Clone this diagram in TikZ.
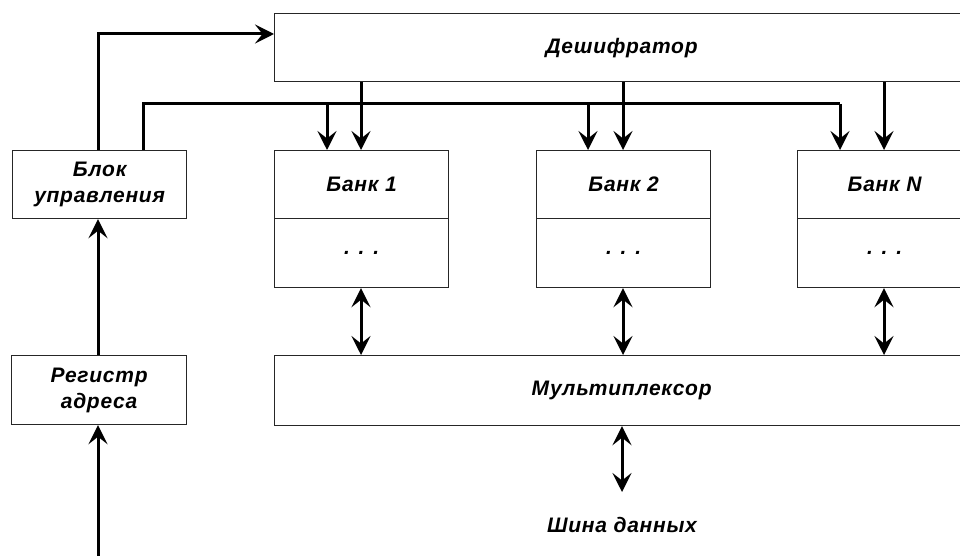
\documentclass[tikz,border=0pt]{standalone}
\usepackage{fontspec}
\setmainfont{Liberation Sans}
\newfontfamily\lblfont[LetterSpace=3.5]{Liberation Sans}
\usetikzlibrary{arrows.meta,calc}
\begin{document}
\begin{tikzpicture}[x=1pt,y=-1pt,
  box/.style={draw=black!85,line width=1.2pt,fill=white,inner sep=0pt,anchor=north west,
    font=\fontsize{21}{26}\lblfont\bfseries\itshape,align=center},
  head/.style={Stealth[length=19pt,width=19pt,inset=7.5pt]},
  conn/.style={line width=3pt,-{Stealth[length=19pt,width=19pt,inset=7.5pt]}},
  biconn/.style={line width=3pt,{Stealth[length=19pt,width=19pt,inset=7.5pt]}-{Stealth[length=19pt,width=19pt,inset=7.5pt]}},
  wire/.style={line width=3pt},
  lbl/.style={font=\fontsize{21}{26}\lblfont\bfseries\itshape}]
\useasboundingbox (0,0) rectangle (960,556);
\clip (0,0) rectangle (960,556);
\fill[white] (0,0) rectangle (960,556);
% boxes
\node[box,minimum width=694pt,minimum height=68pt] (dec) at (274,13) {Дешифратор};
\node[box,minimum width=174pt,minimum height=68pt] (ctl) at (12,150) {Блок\\управления};
\node[box,minimum width=175pt,minimum height=69pt] (reg) at (11,355) {Регистр\\адреса};
\node[box,minimum width=174pt,minimum height=68pt] (b1t) at (274,150) {Банк 1};
\node[box,minimum width=174pt,minimum height=69pt] (b1b) at (274,218) {. . .};
\node[box,minimum width=174pt,minimum height=68pt] (b2t) at (536,150) {Банк 2};
\node[box,minimum width=174pt,minimum height=69pt] (b2b) at (536,218) {. . .};
\node[box,minimum width=174pt,minimum height=68pt] (bNt) at (797,150) {Банк N};
\node[box,minimum width=174pt,minimum height=69pt] (bNb) at (797,218) {. . .};
\node[box,minimum width=694pt,minimum height=70pt] (mux) at (274,355) {Мультиплексор};
\node[lbl] (bus) at (622,525) {Шина данных};
% coordinates
\coordinate (c1) at (98,34);
\coordinate (c2) at (143,104);
\coordinate (c3) at (840,104);
\coordinate (in) at (98,556);
\coordinate (busend) at (622,492);
% control to decoder
\draw[conn] (ctl.north -| c1) |- (dec.west |- c1);
% control to banks
\draw[wire] (ctl.north -| c2) |- (c3);
\draw[conn] (c3) -- (bNt.north -| c3);
\draw[conn] (b1t.north -| 327,0) ++(0,-46) -- (b1t.north -| 327,0);
\draw[conn] (b2t.north -| 588,0) ++(0,-46) -- (b2t.north -| 588,0);
% decoder to banks
\draw[conn] (dec.south -| 361,0) -- (b1t.north -| 361,0);
\draw[conn] (dec.south -| 623,0) -- (b2t.north -| 623,0);
\draw[conn] (dec.south -| 884,0) -- (bNt.north -| 884,0);
% banks to mux
\draw[biconn] (b1b.south -| 361,0) -- (mux.north -| 361,0);
\draw[biconn] (b2b.south -| 623,0) -- (mux.north -| 623,0);
\draw[biconn] (bNb.south -| 884,0) -- (mux.north -| 884,0);
\draw[biconn] (mux.south -| busend) -- (busend);
% register
\draw[conn] (reg.north -| c1) -- (ctl.south -| c1);
\draw[conn] (in) -- (reg.south -| in);
\end{tikzpicture}
\end{document}
